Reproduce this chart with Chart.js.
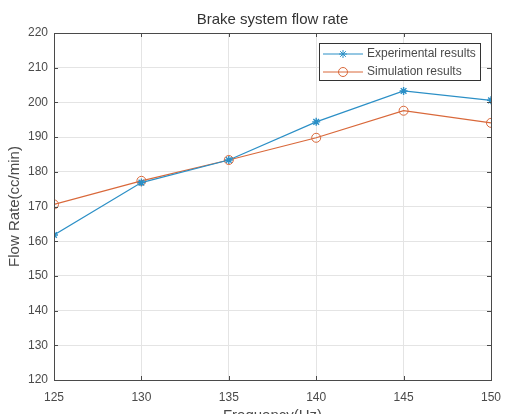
<!DOCTYPE html>
<html>
<head>
<meta charset="utf-8">
<script src="https://cdn.jsdelivr.net/npm/chart.js@4/dist/chart.umd.min.js"></script>
<style>
  html, body { margin: 0; padding: 0; background: #fff; }
  #wrap { width: 508px; height: 414px; }
</style>
</head>
<body>
<div id="wrap"><canvas id="chart" width="508" height="414"></canvas></div>
<script>
// Data
const frequencies = [125, 130, 135, 140, 145, 150];
const experimental = [161.8, 176.9, 183.4, 194.4, 203.3, 200.6];
const simulation = [170.6, 177.4, 183.4, 189.8, 197.6, 194.1];
const xTicks = [125, 130, 135, 140, 145, 150];
const yTicks = [120, 130, 140, 150, 160, 170, 180, 190, 200, 210, 220];

const blue = '#2b8fc6';
const orange = '#d9683a';
const axisColor = '#4a4a4a';
const textColor = '#4a4a4a';
const fontFamily = 'Liberation Sans, Arial, sans-serif';

const toPoints = (ys) => ys.map((y, i) => ({ x: frequencies[i], y }));

// Box around the plot with MATLAB style inward ticks
const boxPlugin = {
  id: 'box',
  afterDatasetsDraw(chart) {
    const { ctx, chartArea: a, scales } = chart;
    ctx.save();
    ctx.strokeStyle = axisColor;
    ctx.lineWidth = 1;
    ctx.strokeRect(Math.round(a.left) + 0.5, Math.round(a.top) + 0.5,
      Math.round(a.right - a.left), Math.round(a.bottom - a.top));
    ctx.beginPath();
    const len = 4;
    xTicks.forEach(v => {
      const x = Math.round(scales.x.getPixelForValue(v)) + 0.5;
      ctx.moveTo(x, a.bottom); ctx.lineTo(x, a.bottom - len);
      ctx.moveTo(x, a.top); ctx.lineTo(x, a.top + len);
    });
    yTicks.forEach(v => {
      const y = Math.round(scales.y.getPixelForValue(v)) + 0.5;
      ctx.moveTo(a.left, y); ctx.lineTo(a.left + len, y);
      ctx.moveTo(a.right, y); ctx.lineTo(a.right - len, y);
    });
    ctx.stroke();
    ctx.restore();
  }
};

// Legend drawn like MATLAB: line with marker in the middle
const legendPlugin = {
  id: 'matlabLegend',
  afterDraw(chart) {
    const { ctx, chartArea: a } = chart;
    const w = 161, h = 37;
    const x0 = Math.round(a.right - 11 - w), y0 = Math.round(a.top + 10);
    ctx.save();
    ctx.fillStyle = '#fff';
    ctx.fillRect(x0, y0, w, h);
    ctx.strokeStyle = '#333';
    ctx.lineWidth = 1;
    ctx.strokeRect(x0 + 0.5, y0 + 0.5, w, h);
    chart.data.datasets.forEach((ds, i) => {
      const y = y0 + 11 + i * 18;
      ctx.strokeStyle = ds.borderColor;
      ctx.lineWidth = 1;
      ctx.beginPath();
      ctx.moveTo(x0 + 4, y); ctx.lineTo(x0 + 44, y);
      ctx.stroke();
      ctx.fillStyle = ds.backgroundColor;
      ctx.strokeStyle = ds.borderColor;
      Chart.helpers.drawPoint(ctx, {
        pointStyle: ds.pointStyle, radius: ds.pointRadius, borderWidth: 1, rotation: 0
      }, x0 + 24, y);
      ctx.fillStyle = textColor;
      ctx.font = '12px ' + fontFamily;
      ctx.textBaseline = 'middle';
      ctx.fillText(ds.label, x0 + 48, y);
    });
    ctx.restore();
  }
};

new Chart(document.getElementById('chart'), {
  type: 'line',
  data: {
    datasets: [
      {
        label: 'Experimental results',
        data: toPoints(experimental),
        borderColor: blue,
        backgroundColor: blue,
        borderWidth: 1.2,
        pointStyle: 'star',
        pointRadius: 4,
        pointBorderWidth: 1.4,
        tension: 0
      },
      {
        label: 'Simulation results',
        data: toPoints(simulation),
        borderColor: orange,
        backgroundColor: 'rgba(0,0,0,0)',
        borderWidth: 1.2,
        pointStyle: 'circle',
        pointRadius: 4.5,
        pointBorderWidth: 1,
        tension: 0
      }
    ]
  },
  options: {
    responsive: false,
    animation: false,
    layout: { padding: { left: 0, right: 17, top: 0, bottom: 0 } },
    plugins: {
      legend: { display: false },
      tooltip: { enabled: false },
      title: {
        display: true,
        fullSize: false,
        text: 'Brake system flow rate',
        color: '#333',
        font: { family: fontFamily, size: 15, weight: 'normal' },
        padding: { top: 11, bottom: 4 }
      }
    },
    scales: {
      x: {
        type: 'linear',
        min: 125,
        max: 150,
        afterBuildTicks: (s) => { s.ticks = xTicks.map(v => ({ value: v })); },
        afterFit: (s) => { s.height = 34; s.paddingLeft = 0; s.paddingRight = 0; },
        ticks: { color: textColor, font: { family: fontFamily, size: 12 }, padding: 10, maxRotation: 0 },
        grid: { color: '#e4e4e4', drawTicks: false },
        border: { display: false },
        title: {
          display: true,
          text: 'Frequency(Hz)',
          color: textColor,
          font: { family: fontFamily, size: 15 },
          padding: { top: 2, bottom: -11 }
        }
      },
      y: {
        min: 120,
        max: 220,
        afterBuildTicks: (s) => { s.ticks = yTicks.map(v => ({ value: v })); },
        afterFit: (s) => { s.width = 54; },
        ticks: { color: textColor, font: { family: fontFamily, size: 12 }, padding: 6 },
        grid: { color: '#e4e4e4', drawTicks: false },
        border: { display: false },
        title: {
          display: true,
          text: 'Flow Rate(cc/min)',
          color: textColor,
          font: { family: fontFamily, size: 15 },
          padding: { top: 6, bottom: 0 }
        }
      }
    }
  },
  plugins: [boxPlugin, legendPlugin]
});
</script>
</body>
</html>
